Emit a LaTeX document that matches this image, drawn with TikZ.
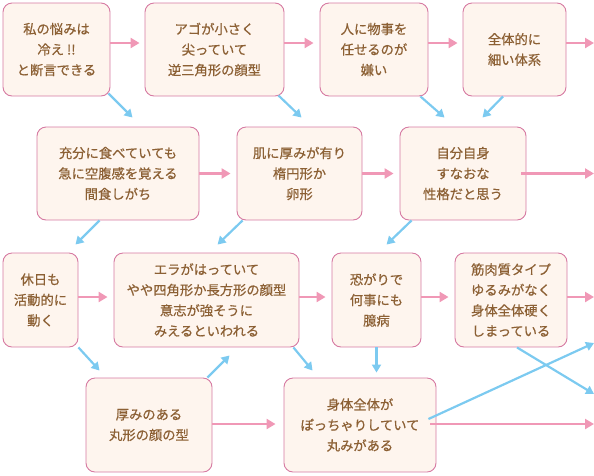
\documentclass[tikz,border=0pt]{standalone}
\usepackage{fontspec}
\setmainfont{Noto Sans CJK JP}
\newfontfamily\jpmed{Noto Sans CJK JP}[FakeBold=0.6]
\usetikzlibrary{calc,arrows.meta}
\definecolor{boxfill}{RGB}{254,245,238}
\definecolor{boxline}{RGB}{214,122,162}
\definecolor{pinkarr}{RGB}{240,152,182}
\definecolor{bluearr}{RGB}{124,202,240}
\definecolor{txtbrown}{RGB}{140,96,52}
\tikzset{
	kbox/.style={draw=boxline, fill=boxfill, line width=0.9pt, rounded corners=9pt, align=center, inner sep=0pt, text=txtbrown, font=\jpmed\fontsize{13.3}{20.5}\selectfont},
	parr/.style={draw=pinkarr, line width=2.6pt, -{Triangle[length=9pt,width=10pt]}},
	barr/.style={draw=bluearr, line width=2.2pt, -{Triangle[length=8pt,width=9pt]}},
}

\begin{document}
\begin{tikzpicture}[x=1pt, y=-1pt]
		%%%%% START %%%%%
		\useasboundingbox (0,0) rectangle (594,475);
		
		% row 1
		\node[kbox, minimum width=107, minimum height=93] (A1) at (56.5,49.5) {私の悩みは\\冷え !!\\と断言できる};
		\node[kbox, minimum width=139, minimum height=93] (A2) at (214.5,49.5) {アゴが小さく\\尖っていて\\逆三角形の顔型};
		\node[kbox, minimum width=108, minimum height=93] (A3) at (374,49.5) {人に物事を\\任せるのが\\嫌い};
		\node[kbox, minimum width=103, minimum height=93] (A4) at (514.5,49.5) {全体的に\\細い体系};
		
		% row 2
		\node[kbox, minimum width=162, minimum height=93] (B1) at (118,173.5) {充分に食べていても\\急に空腹感を覚える\\間食しがち};
		\node[kbox, minimum width=125, minimum height=93] (B2) at (299.5,173.5) {肌に厚みが有り\\楕円形か\\卵形};
		\node[kbox, minimum width=126, minimum height=93] (B3) at (463,173.5) {自分自身\\すなおな\\性格だと思う};
		
		% row 3
		\node[kbox, minimum width=75, minimum height=94] (C1) at (40.5,300) {休日も\\活動的に\\動く};
		\node[kbox, minimum width=185, minimum height=94] (C2) at (206.5,300) {エラがはっていて\\やや四角形か長方形の顔型\\意志が強そうに\\みえるといわれる};
		\node[kbox, minimum width=89, minimum height=94] (C3) at (376.5,300) {恐がりで\\何事にも\\臆病};
		\node[kbox, minimum width=112, minimum height=94] (C4) at (511,300) {筋肉質タイプ\\ゆるみがなく\\身体全体硬く\\しまっている};
		
		% row 4
		\node[kbox, minimum width=126, minimum height=94] (D1) at (149,425) {厚みのある\\丸形の顔の型};
		\node[kbox, minimum width=152, minimum height=94] (D2) at (360,425) {身体全体が\\ぽっちゃりしていて\\丸みがある};
		
		\coordinate (outA) at (594,43);
		\coordinate (outB) at (594,173.5);
		\coordinate (outC) at (594,297);
		\coordinate (outD) at (594,424);
		\coordinate (outX) at (594,394);
		\coordinate (outY) at (594,343);
		
		% pink arrows
		\draw[parr] ($(A1.east)+(0,-6.5)$) -- ($(A2.west)+(-5,-6.5)$);
		\draw[parr] ($(A2.east)+(0,-6.5)$) -- ($(A3.west)+(-6,-6.5)$);
		\draw[parr] ($(A3.east)+(0,-6.5)$) -- ($(A4.west)+(-5,-6.5)$);
		\draw[parr] ($(A4.east)+(0,-6.5)$) -- (outA);
		
		\draw[parr] (B1.east) -- ($(B2.west)+(-6,0)$);
		\draw[parr] (B2.east) -- ($(B3.west)+(-6,0)$);
		\draw[parr] ($(B3.east)+(-5,0)$) -- (outB);
		
		\draw[parr] ($(C1.east)+(0,-3)$) -- ($(C2.west)+(-6,-3)$);
		\draw[parr] ($(C2.east)+(0,-3)$) -- ($(C3.west)+(-6,-3)$);
		\draw[parr] ($(C3.east)+(0,-3)$) -- ($(C4.west)+(-6,-3)$);
		\draw[parr] ($(C4.east)+(0,-3)$) -- (outC);
		
		\draw[parr] ($(D1.east)+(0,-1)$) -- ($(D2.west)+(-8,-1)$);
		\draw[parr] ($(D2.east)+(-6,-1)$) -- (outD);
		
		% blue arrows
		\draw[barr] ($(A1.south east)+(-2,-3)$) -- ($(B1.north west)+(96,-9)$);
		\draw[barr] ($(A2.south east)+(-6,-1)$) -- ($(B2.north west)+(65,-9)$);
		\draw[barr] ($(A3.south east)+(-8,0)$) -- ($(B3.north west)+(45,-9)$);
		\draw[barr] ($(A4.south)+(-11.5,0)$) -- ($(B3.north east)+(-44,-9)$);
		
		\draw[barr] ($(B1.south west)+(63,0)$) -- ($(C1.north east)+(-3,-8)$);
		\draw[barr] ($(B2.south west)+(6,0)$) -- ($(C2.north west)+(104,-8)$);
		\draw[barr] ($(B3.south west)+(12,0)$) -- ($(C3.north west)+(55,-8)$);
		
		\draw[barr] (C1.south east) -- ($(D1.north west)+(14,-7)$);
		\draw[barr] ($(D1.north east)+(-5,0)$) -- ($(C2.south west)+(116,8)$);
		\draw[barr] ($(C2.south east)+(-6,0)$) -- ($(D2.north west)+(29,-7)$);
		\draw[barr] (C3.south) -- ($(C3.south |- D2.north)+(0,-5)$);
		\draw[barr] ($(C4.south)+(6,0)$) -- (outX);
		\draw[barr] ($(D2.east)+(-8,-6)$) -- (outY);
		
		%%%%% END %%%%%
	\end{tikzpicture}
\end{document}
